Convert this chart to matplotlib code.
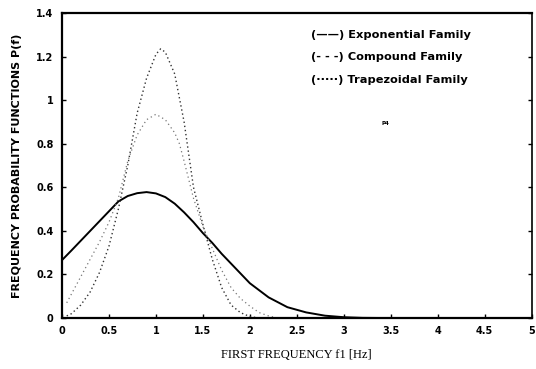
import numpy as np
import matplotlib
matplotlib.use("Agg")
import matplotlib.pyplot as plt

# values
f_exp = [0, 0.1, 0.2, 0.3, 0.4, 0.5, 0.6, 0.7, 0.8, 0.9, 1.0, 1.1, 1.2, 1.3, 1.4,
         1.5, 1.6, 1.7, 1.8, 1.9, 2.0, 2.2, 2.4, 2.6, 2.8, 3.0, 3.2, 3.5, 4.0, 5.0]
p_exp = [0.266, 0.31, 0.355, 0.40, 0.445, 0.49, 0.535, 0.56, 0.573, 0.578, 0.572,
         0.555, 0.525, 0.485, 0.44, 0.39, 0.345, 0.295, 0.25, 0.205, 0.16, 0.095,
         0.05, 0.026, 0.011, 0.004, 0.001, 0.0, 0.0, 0.0]

f_comp = [0.05, 0.1, 0.2, 0.3, 0.4, 0.5, 0.6, 0.7, 0.8, 0.9, 1.0, 1.05, 1.1, 1.2,
          1.3, 1.4, 1.5, 1.6, 1.7, 1.8, 1.9, 2.0, 2.1]
p_comp = [0.01, 0.02, 0.06, 0.12, 0.21, 0.33, 0.50, 0.70, 0.94, 1.10, 1.21, 1.235,
          1.22, 1.12, 0.90, 0.60, 0.43, 0.27, 0.14, 0.06, 0.025, 0.007, 0.0]

f_trap = [0.05, 0.1, 0.2, 0.3, 0.4, 0.5, 0.6, 0.7, 0.8, 0.9, 1.0, 1.1, 1.2, 1.25,
          1.3, 1.4, 1.5, 1.6, 1.7, 1.8, 1.9, 2.0, 2.1, 2.2, 2.3]
p_trap = [0.07, 0.11, 0.19, 0.27, 0.35, 0.44, 0.55, 0.72, 0.84, 0.91, 0.935, 0.91,
          0.85, 0.80, 0.72, 0.55, 0.42, 0.32, 0.22, 0.14, 0.09, 0.055, 0.025, 0.01, 0.0]

x_ticks = [0, 0.5, 1, 1.5, 2, 2.5, 3, 3.5, 4, 4.5, 5]
y_ticks = [0, 0.2, 0.4, 0.6, 0.8, 1, 1.2, 1.4]

fig = plt.figure(figsize=(5.36, 3.69), dpi=100)
ax = fig.add_axes([0.1157, 0.138, 0.876, 0.827])

ax.plot(f_exp, p_exp, color='black', lw=1.4, ls='-')
ax.plot(f_comp, p_comp, color='#333333', lw=1.0, ls=(0, (1, 2)))
ax.plot(f_trap, p_trap, color='#777777', lw=0.9, ls=(0, (1, 2.5)))

ax.set_xlim(0, 5)
ax.set_ylim(0, 1.4)
ax.set_xticks(x_ticks)
ax.set_xticklabels([f"{t:g}" for t in x_ticks])
ax.set_yticks(y_ticks)
ax.set_yticklabels([f"{t:g}" for t in y_ticks])
ax.tick_params(direction='in', length=3, width=1, labelsize=7, right=True,
               top=False, pad=6)
for lab in ax.get_xticklabels() + ax.get_yticklabels():
    lab.set_fontweight('bold')
for s in ['left', 'bottom', 'top']:
    ax.spines[s].set_linewidth(1.6)
ax.spines['right'].set_linewidth(1.2)

ax.set_xlabel('FIRST FREQUENCY f1 [Hz]', fontsize=9, family='Liberation Serif',
              labelpad=9)
ax.set_ylabel('FREQUENCY PROBABILITY FUNCTIONS P(f)', fontsize=8,
              fontweight='bold', labelpad=10)

# hand-written legend, as in the original scan
leg = ['(\u2014\u2014) Exponential Family', '(- - -) Compound Family',
       '(\u00b7\u00b7\u00b7\u00b7\u00b7) Trapezoidal Family']
for i, t in enumerate(leg):
    ax.text(2.65, 1.30 - i * 0.103, t, fontsize=8.2, fontweight='bold',
            va='center', ha='left')
ax.text(3.44, 0.885, 'P4', fontsize=4, fontweight='bold', ha='center')

fig.savefig('out.png', dpi=100)
